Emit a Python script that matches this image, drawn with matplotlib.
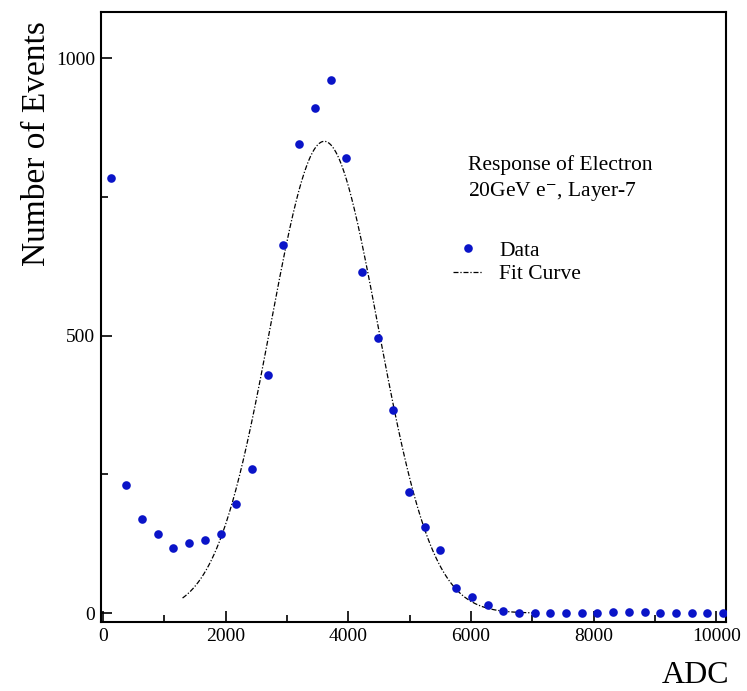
import numpy as np
import matplotlib
matplotlib.use('Agg')
import matplotlib.pyplot as plt

plt.rcParams['font.family'] = ['Liberation Serif', 'DejaVu Serif']
plt.rcParams['mathtext.fontset'] = 'stix'

# Histogram bin centres (ADC) and counts
bin_width = 256
adc = 128 + bin_width * np.arange(40)
counts = [784, 231, 169, 142, 117, 126, 131, 142, 196, 259,
          429, 663, 845, 910, 960, 820, 614, 495, 366, 218,
          155, 113, 45, 29, 14, 4, 0, 1, 1, 1,
          1, 1, 2, 2, 2, 1, 0, 0, 0, 0]

# Gaussian fit parameters
fit_amp = 850
fit_mean = 3610
fit_sigma = 880
fit_range = (1300, 7000)

def gauss(x, a, mu, s):
    return a * np.exp(-(x - mu) ** 2 / (2 * s ** 2))

fig = plt.figure(figsize=(7.47, 6.91), dpi=100)
ax = fig.add_axes([0.1352, 0.0999, 0.8367, 0.8827])

xf = np.linspace(fit_range[0], fit_range[1], 400)
ax.plot(xf, gauss(xf, fit_amp, fit_mean, fit_sigma), color='black', lw=0.9,
        dashes=(4, 1.5, 1, 1.5), label='Fit Curve', zorder=2)
ax.plot(adc, counts, 'o', color='#0a14c8', markersize=6.2, markeredgewidth=0,
        label='Data', zorder=3)

ax.set_xlim(-30, 10160)
ax.set_ylim(-16, 1083)
ax.set_xticks([0, 2000, 4000, 6000, 8000, 10000])
ax.set_xticks(np.arange(1000, 10000, 2000), minor=True)
ax.set_yticks([0, 500, 1000])
ax.set_yticks([250, 750], minor=True)
ax.tick_params(which='major', direction='in', length=8, width=1.2, labelsize=14, pad=4)
ax.tick_params(which='minor', direction='in', length=5, width=1.2)
ax.tick_params(top=False, right=False)
for sp in ax.spines.values():
    sp.set_linewidth(1.5)

ax.set_ylabel('Number of Events', fontsize=24)
ax.yaxis.set_label_coords(-0.078, 0.784)
ax.set_xlabel('ADC', fontsize=23)
ax.xaxis.set_label_coords(1.005, -0.088)
ax.xaxis.label.set_horizontalalignment('right')
ax.xaxis.label.set_verticalalignment('center')

ax.text(0.587, 0.749, 'Response of Electron', transform=ax.transAxes,
        fontsize=15.5, va='center')
ax.text(0.587, 0.705, '20GeV e$^{-}$, Layer-7', transform=ax.transAxes,
        fontsize=15.5, va='center')

h, l = ax.get_legend_handles_labels()
ax.legend(h[::-1], l[::-1], loc='upper left', bbox_to_anchor=(0.563, 0.625),
          frameon=False, fontsize=15.5, handlelength=1.4, handletextpad=0.75,
          labelspacing=0.15, borderaxespad=0, borderpad=0)

plt.savefig('out.png', dpi=100)
